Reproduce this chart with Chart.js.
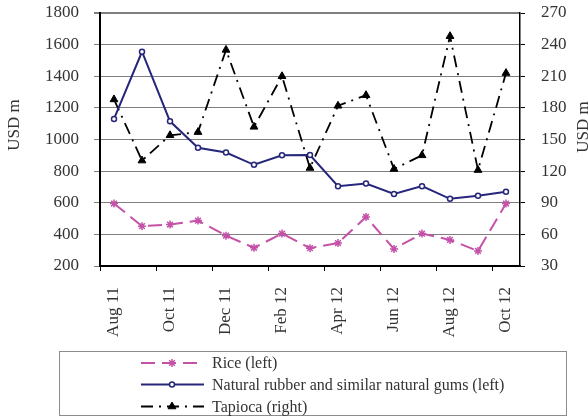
<!DOCTYPE html>
<html><head><meta charset="utf-8">
<script src="https://cdn.jsdelivr.net/npm/chart.js@4"></script>
<style>html,body{margin:0;padding:0;background:#fff;overflow:hidden}#wrap{width:588px;height:418px;position:relative}</style>
</head><body><div id="wrap"><canvas id="c" width="588" height="418"></canvas></div>
<script>
const categories = ['Aug 11','Sep 11','Oct 11','Nov 11','Dec 11','Jan 12','Feb 12','Mar 12','Apr 12','May 12','Jun 12','Jul 12','Aug 12','Sep 12','Oct 12'];
const riceValues = [595,452,462,487,392,315,405,313,345,510,308,405,365,295,595];
const rubberValues = [1130,1555,1115,948,918,840,900,902,705,722,655,705,625,645,670];
const tapiocaValues = [188,130,154,157,235,162,210,123,182,192,122,135,248,121,213];
const seriesNames = ['Rice (left)','Natural rubber and similar natural gums (left)','Tapioca (right)'];
const axisTitle = 'USD m';
const leftMin = 200, leftMax = 1800, leftStep = 200;
const rightMin = 30, rightMax = 270, rightStep = 30;

const FONT = '"Liberation Serif", "Times New Roman", serif';
const TXT = '#333333';

const titlePlugin = {
  id: 'sideTitles',
  afterDraw(chart) {
    const ctx = chart.ctx;
    ctx.save();
    ctx.fillStyle = TXT;
    ctx.font = '17px ' + FONT;
    ctx.textAlign = 'center';
    ctx.textBaseline = 'middle';
    [[15,125],[584,127]].forEach(([x,y]) => {
      ctx.save();
      ctx.translate(x, y);
      ctx.rotate(-Math.PI/2);
      ctx.fillText(axisTitle, 0, 0);
      ctx.restore();
    });
    ctx.restore();
  }
};

const legendPlugin = {
  id: 'boxLegend',
  afterDraw(chart) {
    const ctx = chart.ctx;
    ctx.save();
    ctx.strokeStyle = '#8c8c8c';
    ctx.lineWidth = 1;
    ctx.strokeRect(59.5, 351.5, 507, 64);
    const rows = [363, 384.5, 406.5];
    chart.data.datasets.forEach((ds, i) => {
      const y = rows[i];
      ctx.save();
      ctx.strokeStyle = ds.borderColor;
      ctx.lineWidth = ds.borderWidth;
      ctx.setLineDash(ds.borderDash || []);
      ctx.beginPath(); ctx.moveTo(141, y); ctx.lineTo(204, y); ctx.stroke();
      ctx.setLineDash([]);
      ctx.fillStyle = ds.pointBackgroundColor;
      ctx.strokeStyle = ds.pointBorderColor;
      ctx.lineWidth = ds.pointBorderWidth;
      Chart.helpers.drawPoint(ctx, {pointStyle: ds.pointStyle, radius: ds.pointRadius, borderWidth: ds.pointBorderWidth, rotation: 0}, 172, y);
      ctx.restore();
      ctx.fillStyle = TXT;
      ctx.font = '16px ' + FONT;
      ctx.textAlign = 'left';
      ctx.textBaseline = 'middle';
      ctx.fillText(ds.label, 212, y + 1);
    });
    ctx.restore();
  }
};

new Chart(document.getElementById('c'), {
  type: 'line',
  data: {
    labels: categories,
    datasets: [
      {label: seriesNames[0], data: riceValues, yAxisID: 'yL', borderColor: '#c452a8', borderWidth: 2, borderDash: [14,7],
       pointStyle: 'star', pointRadius: 4, pointBorderWidth: 1.5, pointBackgroundColor: '#c452a8', pointBorderColor: '#c452a8', tension: 0},
      {label: seriesNames[1], data: rubberValues, yAxisID: 'yL', borderColor: '#26267a', borderWidth: 2,
       pointStyle: 'circle', pointRadius: 2.5, pointBorderWidth: 1.5, pointBackgroundColor: '#ffffff', pointBorderColor: '#26267a', tension: 0},
      {label: seriesNames[2], data: tapiocaValues, yAxisID: 'yR', borderColor: '#000000', borderWidth: 1.8, borderDash: [12,6,2,6],
       pointStyle: 'triangle', pointRadius: 4.5, pointBorderWidth: 1, pointBackgroundColor: '#000000', pointBorderColor: '#000000', tension: 0}
    ]
  },
  options: {
    responsive: false,
    animation: false,
    devicePixelRatio: 1,
    layout: {padding: {top: 13, left: 0, right: 0, bottom: 0}},
    plugins: {legend: {display: false}, tooltip: {enabled: false}},
    scales: {
      x: {
        type: 'category',
        offset: true,
        afterFit(s) { s.height = 152; s.paddingLeft = 0; s.paddingRight = 0; },
        grid: {offset: true, drawOnChartArea: false, drawTicks: true, tickLength: 5,
               color: c => (c.index % 2 === 0 && c.index < categories.length) ? '#000' : 'rgba(0,0,0,0)', lineWidth: 1},
        border: {color: '#000', width: 2},
        ticks: {autoSkip: false, minRotation: 90, maxRotation: 90, padding: 16, color: TXT,
                font: {family: FONT, size: 17},
                callback(v, i) { return i % 2 === 0 ? categories[i] : ''; }}
      },
      yL: {
        position: 'left',
        min: leftMin, max: leftMax,
        afterFit(s) { s.width = 100; s.paddingTop = 0; s.paddingBottom = 0; },
        grid: {color: '#7f7f7f', lineWidth: c => c.index === 8 ? 2 : 1, tickLength: 6},
        border: {color: '#000', width: 2},
        ticks: {stepSize: leftStep, padding: 15, color: TXT, font: {family: FONT, size: 17},
                callback: v => String(v)}
      },
      yR: {
        position: 'right',
        min: rightMin, max: rightMax,
        afterFit(s) { s.width = 68; s.paddingTop = 0; s.paddingBottom = 0; },
        grid: {drawOnChartArea: false, color: '#000', tickLength: 5},
        border: {color: '#000', width: 1.5},
        ticks: {stepSize: rightStep, padding: 16, color: TXT, font: {family: FONT, size: 17},
                callback: v => String(v)}
      }
    }
  },
  plugins: [titlePlugin, legendPlugin]
});
</script>
</body></html>
